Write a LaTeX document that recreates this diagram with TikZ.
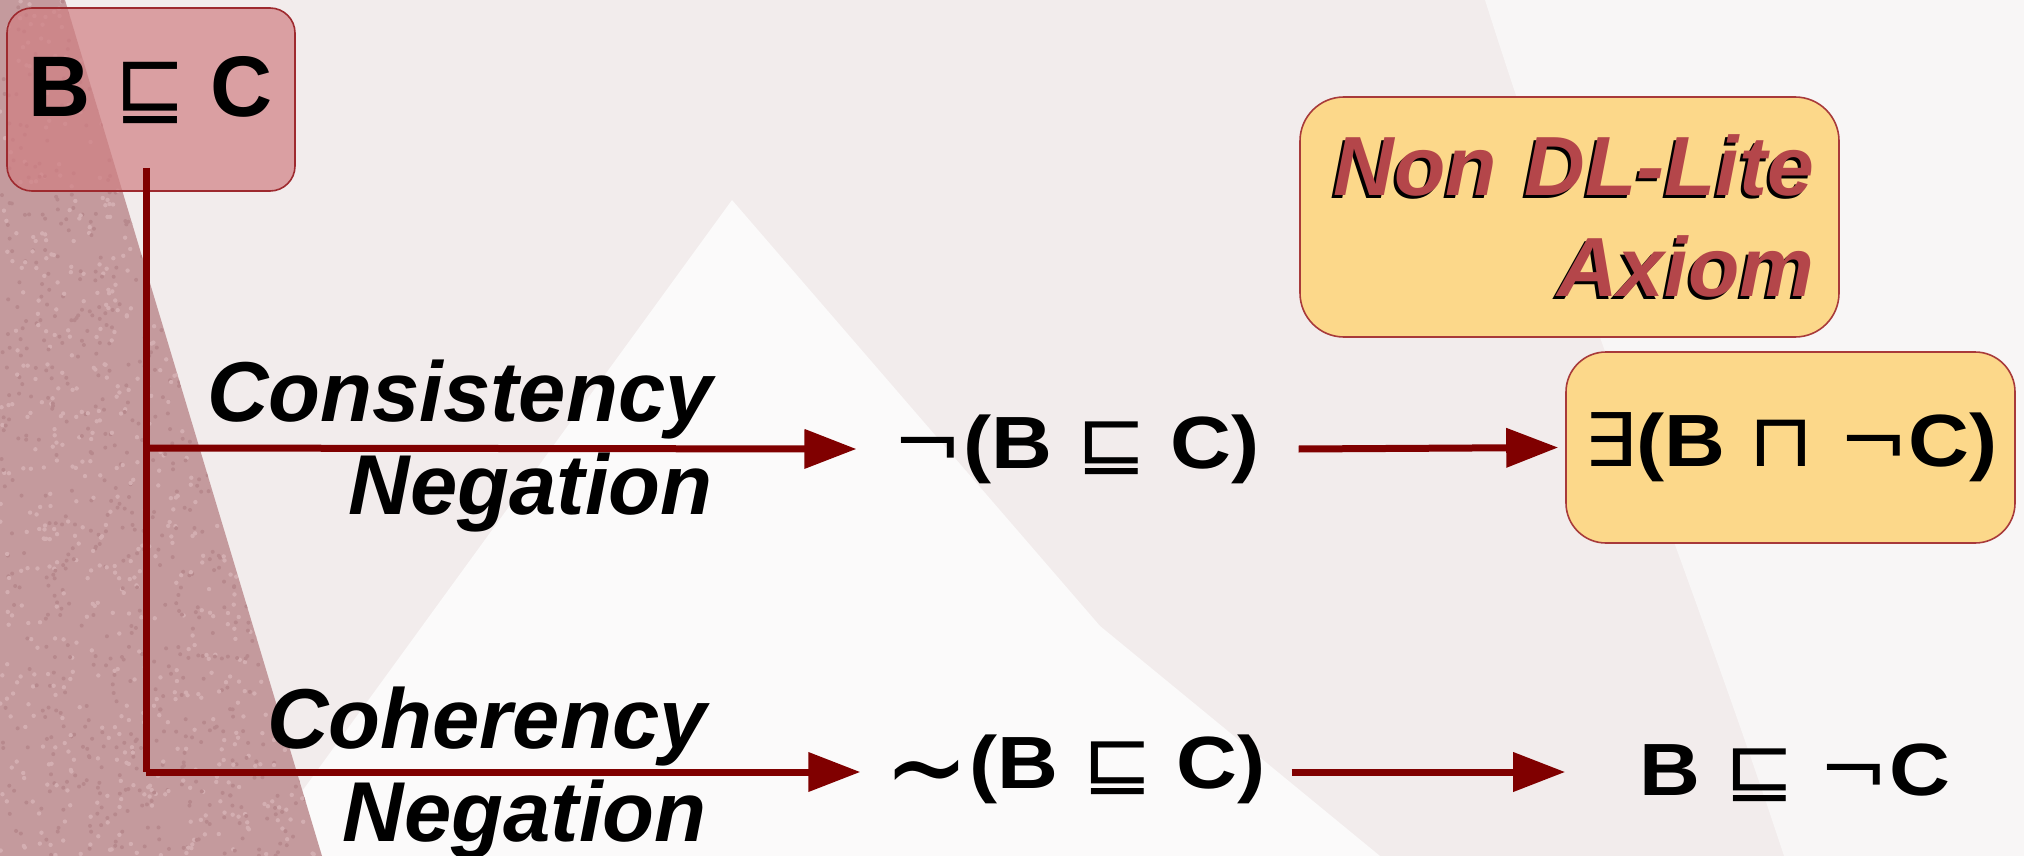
\documentclass[tikz,border=0pt]{standalone}
\usepackage{fontspec}
\setmainfont{Liberation Sans}
\newfontfamily\symf{DejaVu Sans}
\usetikzlibrary{arrows.meta,calc}
\definecolor{bgbase}{HTML}{F2ECEC}
\definecolor{bgwhite}{HTML}{FBFAFA}
\definecolor{bglight}{HTML}{F8F6F6}
\definecolor{bgband}{HTML}{C49A9D}
\definecolor{bandlight}{HTML}{D3AEB1}
\definecolor{banddark}{HTML}{B7898D}
\definecolor{arrowred}{HTML}{800000}
\definecolor{pinkfill}{HTML}{D07F83}
\definecolor{pinkline}{HTML}{9E2A2F}
\definecolor{yellowfill}{HTML}{FCD88A}
\definecolor{yellowline}{HTML}{A83A3A}
\definecolor{dlred}{HTML}{B4464A}
\newcommand{\sqse}{{\symf\mdseries ⊑}}
\newcommand{\sqca}{{\symf\mdseries ⊓}}
\newcommand{\lneg}{{\symf\mdseries ¬}}
\newcommand{\lsim}{{\symf\mdseries \raisebox{-9.5pt}{\scalebox{1.2}[1.6]{∼}}}}
\newcommand{\lex}{{\symf\mdseries ∃}}
\newcommand{\shtext}[1]{\leavevmode\rlap{\kern-1.5pt\raisebox{-1.5pt}{\color{black}#1}}{\color{dlred}#1}}
\tikzset{
  conn/.style={draw=arrowred, line width=3.5pt},
  arr/.style={conn, -{Triangle[length=26pt,width=19pt]}},
  formula/.style={font=\fontsize{37}{44}\selectfont\bfseries, inner sep=0pt},
  lbl/.style={font=\fontsize{42.5}{46.5}\selectfont\bfseries\itshape, inner sep=0pt, anchor=east},
  ybox/.style={draw=yellowline, line width=0.8pt, fill=yellowfill, rounded corners=20pt}
}
\begin{document}
\begin{tikzpicture}[x=0.5pt,y=-0.5pt]
\useasboundingbox (0,0) rectangle (2024,856);
% background
\fill[bgbase] (0,0) rectangle (2024,856);
\fill[bglight] (1485,0) -- (2024,0) -- (2024,856) -- (1784,856) .. controls (1700,600) and (1580,300) .. (1485,0) -- cycle;
\fill[bgwhite] (732,200) -- (1100,626) -- (1380,856) -- (255,856) -- cycle;
\begin{scope}
  \clip (0,0) -- (65,0) -- (322,856) -- (0,856) -- cycle;
  \fill[bgband] (0,0) rectangle (330,856);
  \pgfmathsetseed{7}
  \foreach \i in {1,...,900} {
    \fill[bandlight] ({rnd*330},{rnd*856}) circle (2.2);
    \fill[banddark] ({rnd*330},{rnd*856}) circle (2);
  }
\end{scope}
% nodes
\node[draw=pinkline, line width=0.8pt, fill=pinkfill, fill opacity=0.7, text opacity=1,
      rounded corners=12.5pt, minimum width=144pt, minimum height=91.5pt,
      font=\fontsize{43}{50}\selectfont\bfseries, text height=31pt, text depth=13.5pt]
      (bc) at (151,99.5) {B \sqse\ C};
\node[ybox, minimum width=269.5pt, minimum height=120pt, rounded corners=22pt,
      inner xsep=12.5pt, text width=244.5pt, align=right,
      font=\fontsize{42}{50.5}\selectfont\bfseries\itshape]
      (nondl) at (1569.5,217) {\shtext{Non DL-Lite}\\\shtext{Axiom}};
\node[ybox, minimum width=224.5pt, minimum height=95.5pt, font=\fontsize{37}{44}\selectfont\bfseries]
      (ex) at (1790.5,447.5) {\scalebox{1.14}[1]{\lex(B \sqca\ \lneg C)}};
\node[formula] (neg1) at (1076,449) {\scalebox{1.14}[1]{\lneg(B \sqse\ C)}};
\node[formula, text height=0pt, text depth=0pt] (sim) at (1075,788) {\scalebox{1.14}[1]{\lsim(B \sqse\ C)}};
\node[formula] (bnc) at (1795,773) {\scalebox{1.14}[1]{B \sqse\ \lneg C}};
\node[lbl] (l1) at (713,449) {\begin{tabular}{@{}r@{}}Consistency\\Negation\end{tabular}};
\node[lbl] (l2) at (707,776) {\begin{tabular}{@{}r@{}}Coherency\\Negation\end{tabular}};
% connectors
\coordinate (j1) at (146,448);
\coordinate (j2) at (146,772);
\draw[conn] ($(bc.south)+(-5,-24)$) -- (j2);
\draw[arr] (j2) -- ([xshift=-12pt]j2 -| sim.west);
\draw[arr] (j1) -- ([xshift=-18pt]neg1.west);
\draw[arr] ([xshift=19.5pt]neg1.east) -- ([xshift=-3.5pt]ex.west);
\draw[arr] ([xshift=13pt]j2 -| sim.east) -- (j2 -| ex.west);
\end{tikzpicture}
\end{document}
